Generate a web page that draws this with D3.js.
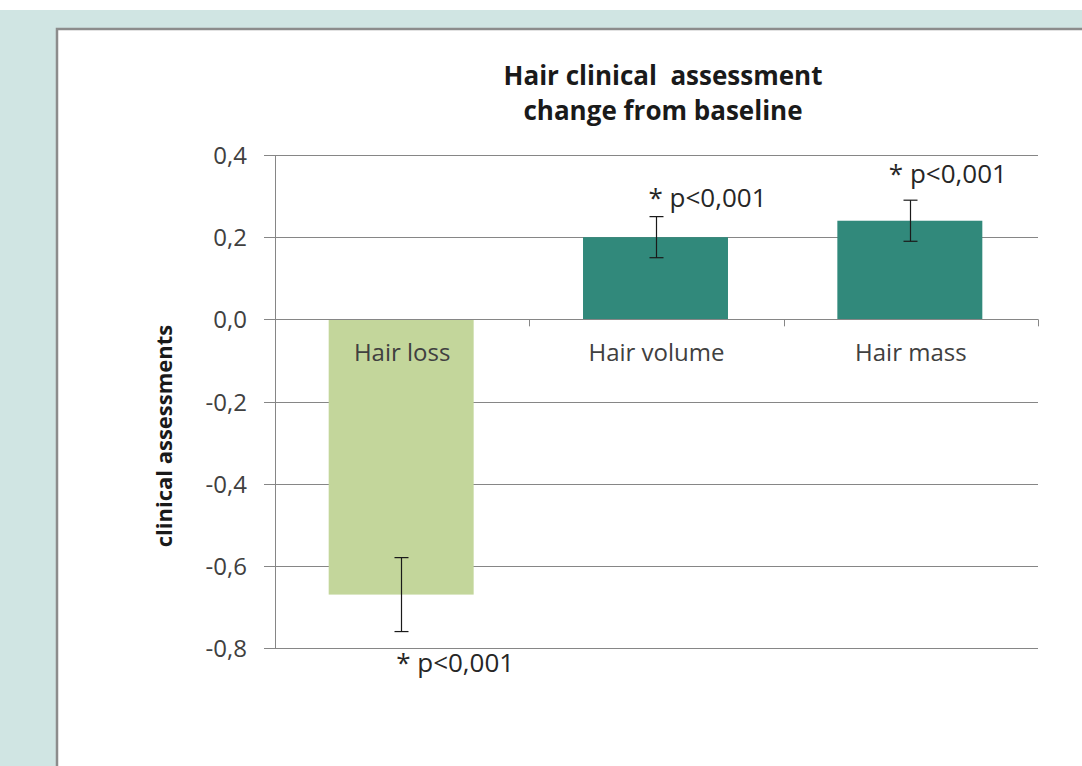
<!DOCTYPE html>
<html><head><meta charset="utf-8">
<script src="https://cdn.jsdelivr.net/npm/d3@7"></script>
<style>html,body{margin:0;padding:0;background:#fff;}svg{display:block;}</style>
</head><body>
<script>
const categories = ["Hair loss", "Hair volume", "Hair mass"];
const values = [-0.67, 0.20, 0.24];
const errors = [0.09, 0.05, 0.05];
const barColors = ["#c3d69b", "#31897b", "#31897b"];
const sigLabels = ["* p<0,001", "* p<0,001", "* p<0,001"];
const yTicks = [0.4, 0.2, 0.0, -0.2, -0.4, -0.6, -0.8];
const titleLines = ["Hair clinical  assessment", "change from baseline"];
const yTitle = "clinical assessments";

const W = 1082, H = 766;
const font = "'Open Sans', sans-serif";
const textColor = "#404040";
const gridColor = "#868686";
const labelDx = [-6, -8, -22];
const labelDy = [40, -10, -17];

const svg = d3.select("body").append("svg").attr("width", W).attr("height", H);
svg.append("rect").attr("x",0).attr("y",10).attr("width",W).attr("height",H-10).attr("fill","#d0e5e3");
svg.append("rect").attr("x",57).attr("y",29).attr("width",W).attr("height",H).attr("fill","#fff")
  .attr("stroke","#8c8c8c").attr("stroke-width",2.5);

const left = 275, right = 1038;
const y = d3.scaleLinear().domain([-0.8, 0.4]).range([648, 155]);
const x = d3.scaleBand().domain(categories).range([left, right]).paddingInner(0.43).paddingOuter(0.215);

// gridlines
svg.append("g").selectAll("line").data(yTicks).join("line")
  .attr("x1", left - 11).attr("x2", right)
  .attr("y1", d => Math.round(y(d)) + 0.5).attr("y2", d => Math.round(y(d)) + 0.5)
  .attr("stroke", gridColor).attr("stroke-width", 1);

// y axis line
svg.append("line").attr("x1", left+0.5).attr("x2", left+0.5).attr("y1", y(0.4)).attr("y2", y(-0.8))
  .attr("stroke", gridColor);

// y tick labels
const fmt = d => d3.format(".1f")(d).replace(".", ",").replace("−","-");
svg.append("g").selectAll("text").data(yTicks).join("text")
  .attr("x", 247).attr("y", d => y(d)).attr("dy", "0.38em")
  .attr("text-anchor", "end").attr("font-family", font).attr("font-size", 24)
  .attr("fill", textColor).text(d => fmt(d));

// bars
svg.append("g").selectAll("rect").data(categories).join("rect")
  .attr("x", d => x(d) - 1).attr("width", x.bandwidth())
  .attr("y", (d,i) => y(Math.max(0, values[i])))
  .attr("height", (d,i) => Math.abs(y(values[i]) - y(0)))
  .attr("fill", (d,i) => barColors[i]);

// zero axis line over bars
svg.append("line").attr("x1", left).attr("x2", right).attr("y1", Math.round(y(0))+0.5).attr("y2", Math.round(y(0))+0.5)
  .attr("stroke", gridColor);
// category ticks
const boundaries = [left, ...categories.map(c => x(c) + x.bandwidth() + x.step()*x.paddingInner()/2)];
svg.append("g").selectAll("line").data(boundaries).join("line")
  .attr("x1", d => Math.round(d)+0.5).attr("x2", d => Math.round(d)+0.5)
  .attr("y1", y(0)).attr("y2", y(0) + 7).attr("stroke", gridColor);

// error bars
const eb = svg.append("g").attr("stroke", "#1a1a1a").attr("stroke-width", 1.2);
categories.forEach((c, i) => {
  const cx = Math.round(x(c) + x.bandwidth()/2) - 0.5;
  const y1 = y(values[i] + errors[i]), y2 = y(values[i] - errors[i]);
  eb.append("line").attr("x1", cx).attr("x2", cx).attr("y1", y1).attr("y2", y2);
  eb.append("line").attr("x1", cx-7).attr("x2", cx+7).attr("y1", y1).attr("y2", y1);
  eb.append("line").attr("x1", cx-7).attr("x2", cx+7).attr("y1", y2).attr("y2", y2);
});

// category labels
svg.append("g").selectAll("text").data(categories).join("text")
  .attr("x", d => x(d) + x.bandwidth()/2).attr("y", y(0) + 42)
  .attr("text-anchor", "middle").attr("font-family", font).attr("font-size", 24)
  .attr("fill", textColor).text(d => d);

// significance labels
svg.append("g").selectAll("text").data(categories).join("text")
  .attr("x", (d,i) => x(d) + x.bandwidth()/2 + labelDx[i])
  .attr("y", (d,i) => (values[i] >= 0 ? y(values[i] + errors[i]) : y(values[i] - errors[i])) + labelDy[i])
  .attr("font-family", font).attr("font-size", 26)
  .attr("fill", "#262626").style("white-space", "pre").text((d,i) => sigLabels[i]);

// title
svg.append("g").selectAll("text").data(titleLines).join("text")
  .attr("x", 663).attr("y", (d,i) => 85 + i*35)
  .attr("text-anchor", "middle").attr("font-family", font).attr("font-size", 26).attr("font-weight", "bold")
  .attr("fill", "#1a1a1a").style("white-space", "pre").text(d => d);

// y title
svg.append("text").attr("transform", `translate(172, ${436}) rotate(-90)`)
  .attr("text-anchor", "middle").attr("font-family", font).attr("font-size", 22).attr("font-weight", "bold")
  .attr("fill", "#1a1a1a").text(yTitle);
</script>
</body></html>
